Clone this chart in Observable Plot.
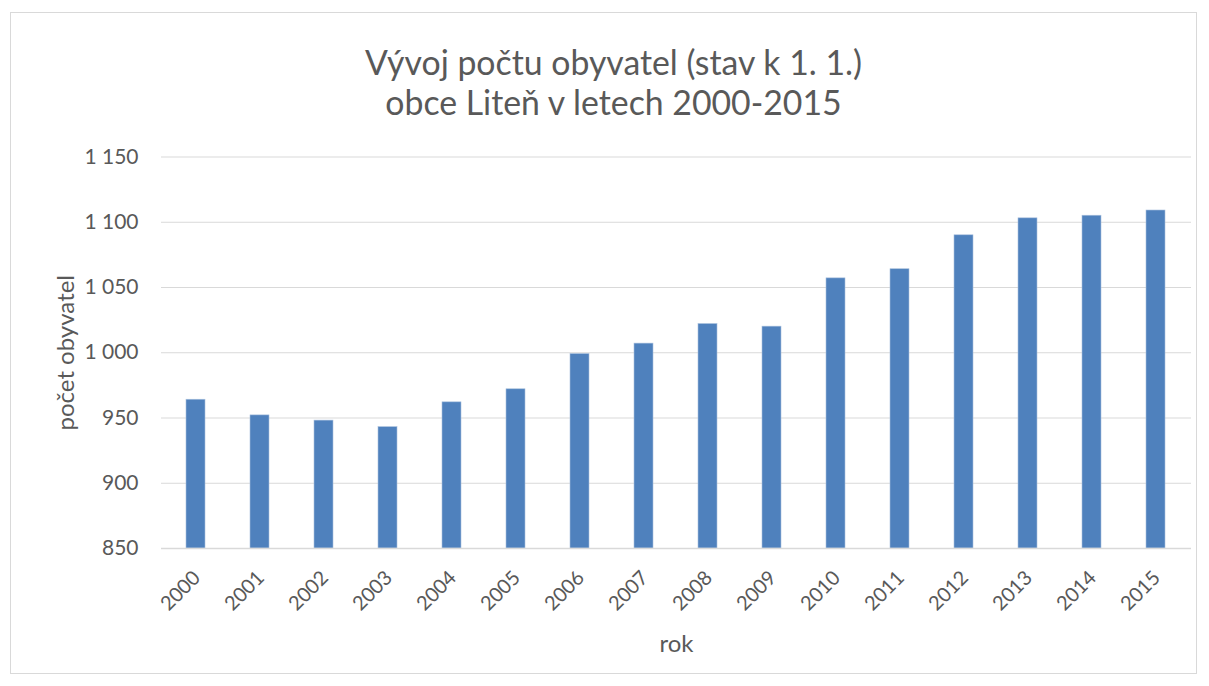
<!DOCTYPE html>
<html>
<head>
<meta charset="utf-8">
<script src="https://cdn.jsdelivr.net/npm/d3@7"></script>
<script src="https://cdn.jsdelivr.net/npm/@observablehq/plot@0.6"></script>
<style>
  html, body { margin: 0; padding: 0; background: #fff; }
  #frame { position: absolute; left: 10px; top: 12px; width: 1187px; height: 662px; border: 1px solid #d9d9d9; box-sizing: border-box; pointer-events: none; }
  #title { position: absolute; left: 9px; top: 0; width: 1209px; text-align: center; font-family: Lato, sans-serif; font-size: 33.8px; line-height: 40px; color: #595959; padding-top: 42px; }
  #chart { position: absolute; left: 0; top: 130px; }
</style>
</head>
<body>
<div id="title">Vývoj počtu obyvatel (stav k 1. 1.)<br>obce Liteň v letech 2000-2015</div>
<div id="chart"></div>
<div id="frame"></div>
<script>
const years = ["2000","2001","2002","2003","2004","2005","2006","2007","2008","2009","2010","2011","2012","2013","2014","2015"];
const population = [964, 952, 948, 943, 962, 972, 999, 1007, 1022, 1020, 1057, 1064, 1090, 1103, 1105, 1109];
const yTicks = [850, 900, 950, 1000, 1050, 1100, 1150];

const data = years.map((y, i) => ({year: y, value: population[i]}));
const fmt = d => d >= 1000 ? `${Math.floor(d / 1000)} ${String(d % 1000).padStart(3, "0")}` : String(d);

const chart = Plot.plot({
  width: 1209,
  height: 540,
  marginLeft: 161,
  marginRight: 18,
  marginTop: 26.5,
  marginBottom: 122,
  style: {fontFamily: "Lato, sans-serif", color: "#595959", background: "transparent"},
  x: {domain: years, paddingInner: 0.7, paddingOuter: 0.35, label: null},
  y: {domain: [850, 1150], ticks: yTicks, label: null},
  marks: [
    Plot.gridY(yTicks, {stroke: "#d9d9d9", strokeOpacity: 1, strokeWidth: 1}),
    Plot.barY(data, {x: "year", y1: 850, y2: "value", fill: "#4f81bd", stroke: "#a9c0dd", strokeWidth: 0.6}),
    Plot.ruleY([850], {stroke: "#d9d9d9", strokeWidth: 1.3}),
    Plot.axisY(yTicks, {tickSize: 0, tickPadding: 23, tickFormat: fmt, fontSize: 21, fill: "#595959", label: null}),
    Plot.axisX({tickSize: 0, tickRotate: -45, tickPadding: 26, dx: 1, fontSize: 20, fill: "#595959", label: null}),
    Plot.text(["počet obyvatel"], {frameAnchor: "left", textAnchor: "middle", lineAnchor: "middle", dx: -95, rotate: -90, fontSize: 24, fill: "#595959"}),
    Plot.text(["rok"], {frameAnchor: "bottom", textAnchor: "middle", lineAnchor: "middle", dy: 96, fontSize: 24, fill: "#595959"})
  ]
});
document.getElementById("chart").appendChild(chart);
</script>
</body>
</html>
